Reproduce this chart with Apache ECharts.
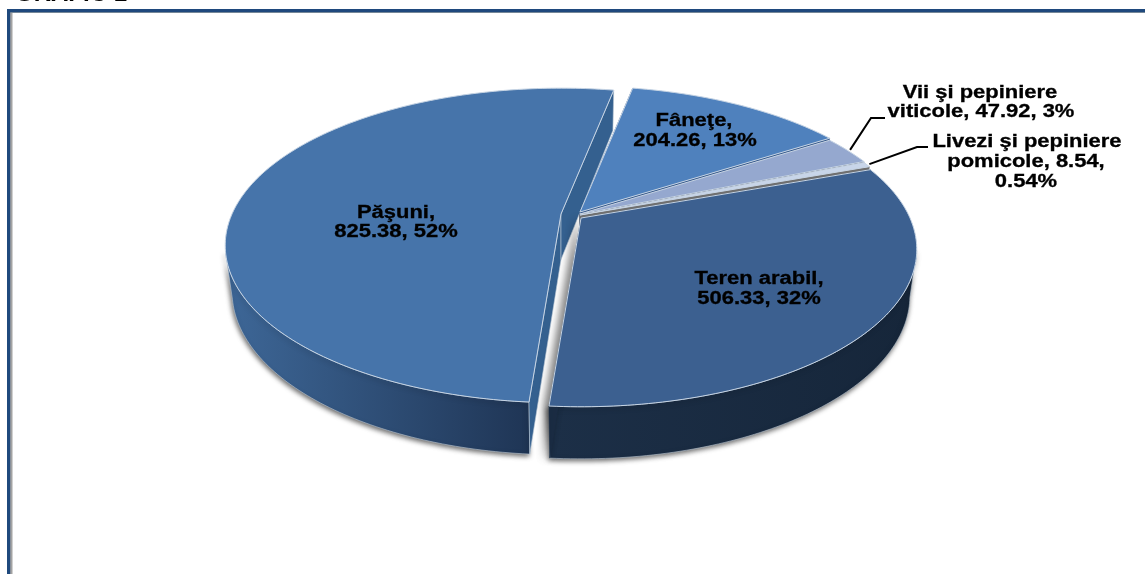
<!DOCTYPE html>
<html>
<head>
<meta charset="utf-8">
<style>
html,body{margin:0;padding:0;background:#fff;overflow:hidden}
#chart{width:1145px;height:574px}
</style>
<script src="https://cdn.jsdelivr.net/npm/echarts@6/dist/echarts.min.js"></script>
</head>
<body>
<div id="chart"></div>
<script>
// data
var categories = ['Teren arabil', 'Păşuni', 'Fâneţe', 'Vii şi pepiniere viticole', 'Livezi şi pepiniere pomicole'];
var values = [506.33, 825.38, 204.26, 47.92, 8.54];
var percents = ['32%', '52%', '13%', '3%', '0.54%'];

// label text, one entry per line
var labelLines = [
    ['Teren arabil,', values[0] + ', ' + percents[0]],
    ['Păşuni,', values[1] + ', ' + percents[1]],
    ['Fâneţe,', values[2] + ', ' + percents[2]],
    ['Vii şi pepiniere', 'viticole, ' + values[3] + ', ' + percents[3]],
    ['Livezi şi pepiniere', 'pomicole, ' + values[4] + ',', percents[4]]
];

// look of the tilted pie
var startAngle = 70;
var A = 329, B = 151, DEPTH = 46.5, K = 0.2, M = 0.02;
var frontArc = [102, 256];
var sliceStyle = [
    {cx: 581, cy: 218, top: '#3c6090', wallFrom: '#1c2f47', wallTo: '#16263a', wallX: [551, 911], cut: '#1b2d45', cutLine: '#1b2d45', z: 40, shadow: true},
    {cx: 561, cy: 214, top: '#4674aa', wallFrom: '#3d6696', wallTo: '#1f3555', wallX: [232, 530], cut: '#34608f', cutLine: '#b9c6d4', z: 10, shadow: true},
    {cx: 580, cy: 212, top: '#4f81bd', wallFrom: '#35588a', wallTo: '#35588a', wallX: [580, 830], cut: '#35588a', cutLine: '#35588a', z: 20},
    {cx: 580, cy: 214, top: '#95a8cf', wallFrom: '#5f6f90', wallTo: '#5f6f90', wallX: [830, 870], cut: '#5f6f90', cutLine: '#5f6f90', z: 25},
    {cx: 580, cy: 215, top: '#c8d5e9', wallFrom: '#777', wallTo: '#777', wallX: [860, 880], cut: '#6f6f6f', cutLine: '#6f6f6f', z: 30}
];
var labelPos = [
    [[759, 279], [759, 299]],
    [[396, 213], [396, 232]],
    [[694, 121], [695, 141]],
    [[980, 93], [981, 112]],
    [[1027, 142], [1026, 162], [1026, 182]]
];
var leaders = {3: [[871, 118], [885, 118]], 4: [[917, 147], [928, 147]]};

var total = values.reduce(function (s, v) { return s + v; }, 0);

function project(st, deg, r, z) {
    var t = deg * Math.PI / 180;
    var u = Math.sin(t) * r, v = -Math.cos(t) * r;
    var w = 1 - K * v + M * z;
    return [st.cx + A * u / w, st.cy + (B * v + DEPTH * z) / w];
}

function arc(st, a0, a1, z) {
    var pts = [], n = Math.max(2, Math.ceil(Math.abs(a1 - a0)));
    for (var i = 0; i <= n; i++) {
        pts.push(project(st, a0 + (a1 - a0) * i / n, 1, z));
    }
    return pts;
}

function renderItem(params, api) {
    var idx = params.dataIndex;
    var st = sliceStyle[idx];
    var before = 0;
    for (var i = 0; i < idx; i++) before += values[i];
    var a0 = startAngle + before / total * 360;
    var a1 = a0 + api.value(0) / total * 360;
    var apexTop = project(st, 0, 0, 0), apexBot = project(st, 0, 0, 1);
    var shadow = st.shadow ? {shadowBlur: 5, shadowColor: 'rgba(0,0,0,0.6)', shadowOffsetX: -1, shadowOffsetY: 2} : {};
    var kids = [];

    // outer wall, only the part that faces the viewer
    var w0 = Math.max(a0, frontArc[0]), w1 = Math.min(a1, frontArc[1]);
    if (w1 > w0) {
        var wallFill = new echarts.graphic.LinearGradient(st.wallX[0], 0, st.wallX[1], 0,
            [{offset: 0, color: st.wallFrom}, {offset: 1, color: st.wallTo}], true);
        kids.push({type: 'polygon', z2: st.z,
            shape: {points: arc(st, w0, w1, 0).concat(arc(st, w0, w1, 1).reverse())},
            style: Object.assign({fill: wallFill, stroke: '#b9c6d4', lineWidth: 0.6}, shadow)});
    }
    [a0, a1].forEach(function (a) {
        var cutStyle = {fill: st.cut, stroke: st.cutLine, lineWidth: 0.6};
        // the big front slice throws a soft shadow into the gap on its left
        if (idx === 0 && a === a1) {
            Object.assign(cutStyle, {shadowBlur: 9, shadowColor: 'rgba(0,0,0,0.6)', shadowOffsetX: -4, shadowOffsetY: 1});
        }
        kids.push({type: 'polygon', z2: st.z + 1,
            shape: {points: [apexTop, project(st, a, 1, 0), project(st, a, 1, 1), apexBot]},
            style: cutStyle});
    });
    kids.push({type: 'polygon', z2: st.z + 2,
        shape: {points: [apexTop].concat(arc(st, a0, a1, 0))},
        style: {fill: st.top, stroke: '#c6d4e4', lineWidth: 1}});

    if (leaders[idx]) {
        var mid = project(st, (a0 + a1) / 2, 1.01, 0);
        kids.push({type: 'polyline', z2: 90,
            shape: {points: [mid].concat(leaders[idx])},
            style: {fill: 'none', stroke: '#000', lineWidth: 2}});
    }
    labelLines[idx].forEach(function (txt, n) {
        kids.push({type: 'text', z2: 100, x: labelPos[idx][n][0], y: labelPos[idx][n][1], scaleX: 1.22,
            style: {text: txt, x: 0, y: 0, align: 'center', verticalAlign: 'middle',
                font: 'bold 18px "Liberation Sans", Arial, sans-serif', fill: '#000', stroke: '#000', lineWidth: 0.3}});
    });
    return {type: 'group', children: kids};
}

var chart = echarts.init(document.getElementById('chart'), null, {renderer: 'canvas'});
chart.setOption({
    animation: false,
    backgroundColor: '#fff',
    graphic: [
        {type: 'text', x: 15, y: -18, style: {text: 'GRAFIC 1', font: 'bold 24px "Liberation Sans", Arial, sans-serif', fill: '#000'}},
        {type: 'rect', shape: {x: 10, y: 12, width: 2.5, height: 562}, style: {fill: '#a3a3a3'}},
        {type: 'rect', shape: {x: 10, y: 12, width: 1135, height: 1}, style: {fill: '#cfc8b4'}},
        {type: 'rect', shape: {x: 7, y: 9, width: 1138, height: 3.4}, style: {fill: '#1f497d'}},
        {type: 'rect', shape: {x: 7, y: 9, width: 3.2, height: 565}, style: {fill: '#1f497d'}}
    ],
    series: [{
        type: 'custom',
        coordinateSystem: 'none',
        clip: false,
        silent: true,
        name: 'Suprafata',
        renderItem: renderItem,
        data: values.map(function (v, i) { return {name: categories[i], value: [v]}; })
    }]
});
</script>
</body>
</html>
